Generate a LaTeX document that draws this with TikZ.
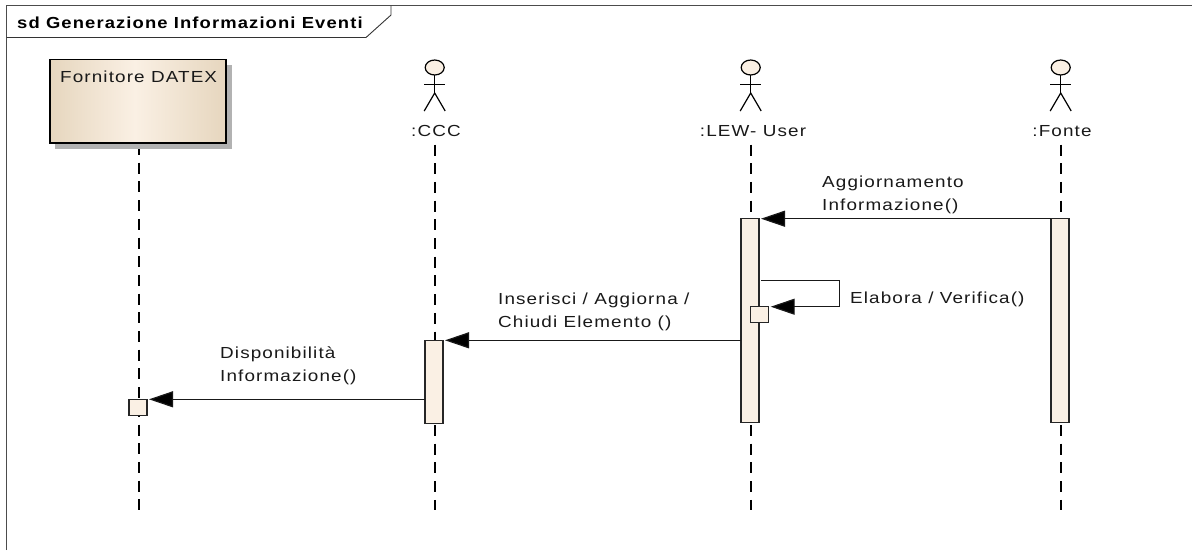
\documentclass[tikz,border=0pt]{standalone}
\usepackage{fontspec}
\setmainfont{Liberation Sans}
\newfontfamily\wideface[FakeStretch=1.18,LetterSpace=7]{Liberation Sans}
\newfontfamily\titleface[FakeStretch=1.15,LetterSpace=7]{Liberation Sans}
\usetikzlibrary{arrows.meta}
\definecolor{actfill}{RGB}{250,240,228}
\definecolor{boxedge}{RGB}{230,214,190}
\tikzset{
  x=1pt,y=-1pt,
  lab/.style={font=\wideface\fontsize{16}{23}\selectfont,text=black!90,inner sep=0pt,align=left},
  life/.style={line width=2pt,dash pattern=on 11pt off 7.7pt},
  actbar/.style={draw=black!85,fill=actfill,line width=1.1pt,inner sep=0pt,outer sep=0pt,minimum width=18pt},
  msg/.style={line width=1.2pt,draw=black!90,-{Triangle[length=24pt,width=16pt,fill=black]},shorten >=2pt},
  stick/.style={line width=1.2pt,black}
}
\newcommand{\stickman}[1]{%
  \draw[stick,fill=actfill] (#1,67.5) ellipse [x radius=9.5,y radius=7.5];
  \draw[stick] (#1,75) -- (#1,93);
  \draw[stick] (#1-10.5,84.5) -- (#1+10.5,84.5);
  \draw[stick] (#1-10.5,111) -- (#1,93) -- (#1+10.5,111);
}
\begin{document}
\begin{tikzpicture}
\useasboundingbox (0,0) rectangle (1192,550);
% frame
\draw[line width=.9pt,black!70] (6.5,550) -- (6.5,5.5) -- (1192,5.5);
\draw[line width=.9pt,black!80] (6.5,37.5) -- (366,37.5) -- (391,15) -- (391,5.5);
\node[anchor=base west,inner sep=0pt,font=\titleface\bfseries\fontsize{16}{18}\selectfont] (title) at (17,28) {sd Generazione Informazioni Eventi};
% lifelines
\coordinate (l1) at (138.5,144);\coordinate (l1e) at (138.5,510);
\coordinate (l2) at (435,144.5);\coordinate (l2e) at (435,510);
\coordinate (l3) at (750.5,144.5);\coordinate (l3e) at (750.5,510);
\coordinate (l4) at (1060.5,144.5);\coordinate (l4e) at (1060.5,510);
\draw[life] (l1) -- (l1e);
\draw[life] (l2) -- (l2e);
\draw[life] (l3) -- (l3e);
\draw[life] (l4) -- (l4e);
% box
\fill[black!30] (55,65) rectangle (232,149);
\fill[left color=boxedge,right color=actfill] (50,59.5) rectangle (135,143);
\fill[left color=actfill,right color=boxedge] (135,59.5) rectangle (226,143);
\node[draw=black,line width=1.1pt,anchor=north west,minimum width=176pt,minimum height=83.5pt,inner sep=0pt,outer sep=0pt] (datex) at (50,59.5) {};
\node[lab,anchor=base west] (datexl) at (60,82) {Fornitore DATEX};
% actors
\stickman{434.7}
\stickman{750.7}
\stickman{1060.7}
\node[lab,anchor=base] (ccc) at (436,136) {:CCC};
\node[lab,anchor=base] (lew) at (753,136) {:LEW- User};
\node[lab,anchor=base] (fonte) at (1062,136) {:Fonte};
% activations
\node[actbar,minimum height=204pt,anchor=north] (a3) at (750,218.7) {};
\node[actbar,minimum height=204pt,anchor=north] (a4) at (1060,218.7) {};
\node[actbar,minimum height=83pt,anchor=north] (a2) at (434,340.3) {};
\node[actbar,minimum height=16pt,anchor=north] (a1) at (138,399.3) {};
\node[actbar,minimum height=16pt,anchor=north] (a3b) at (759.7,306.7) {};
% messages
\draw[msg] (a4.north west) -- (a3.north east);
\draw[msg] (a3.west |- a2.north) -- (a2.north east);
\draw[msg] (a2.west |- a1.north) -- (a1.north east);
\coordinate (s1) at (761,280.7);
\coordinate (s2) at (839.5,280.7);
\coordinate (s3) at (839.5,306.7);
\draw[line width=1.2pt,black!90] (s1) -- (s2) -- (s3);
\draw[msg] (s3) -- (a3b.north east);
% labels
\node[lab,anchor=north west] (m1) at (822,176) {Aggiornamento\\Informazione()};
\node[lab,anchor=base west] (m2) at (850,303) {Elabora / Verifica()};
\node[lab,anchor=north west] (m3) at (498,293) {Inserisci / Aggiorna /\\Chiudi Elemento ()};
\node[lab,anchor=north west] (m4) at (220,347) {Disponibilità\\Informazione()};
\end{tikzpicture}
\end{document}
